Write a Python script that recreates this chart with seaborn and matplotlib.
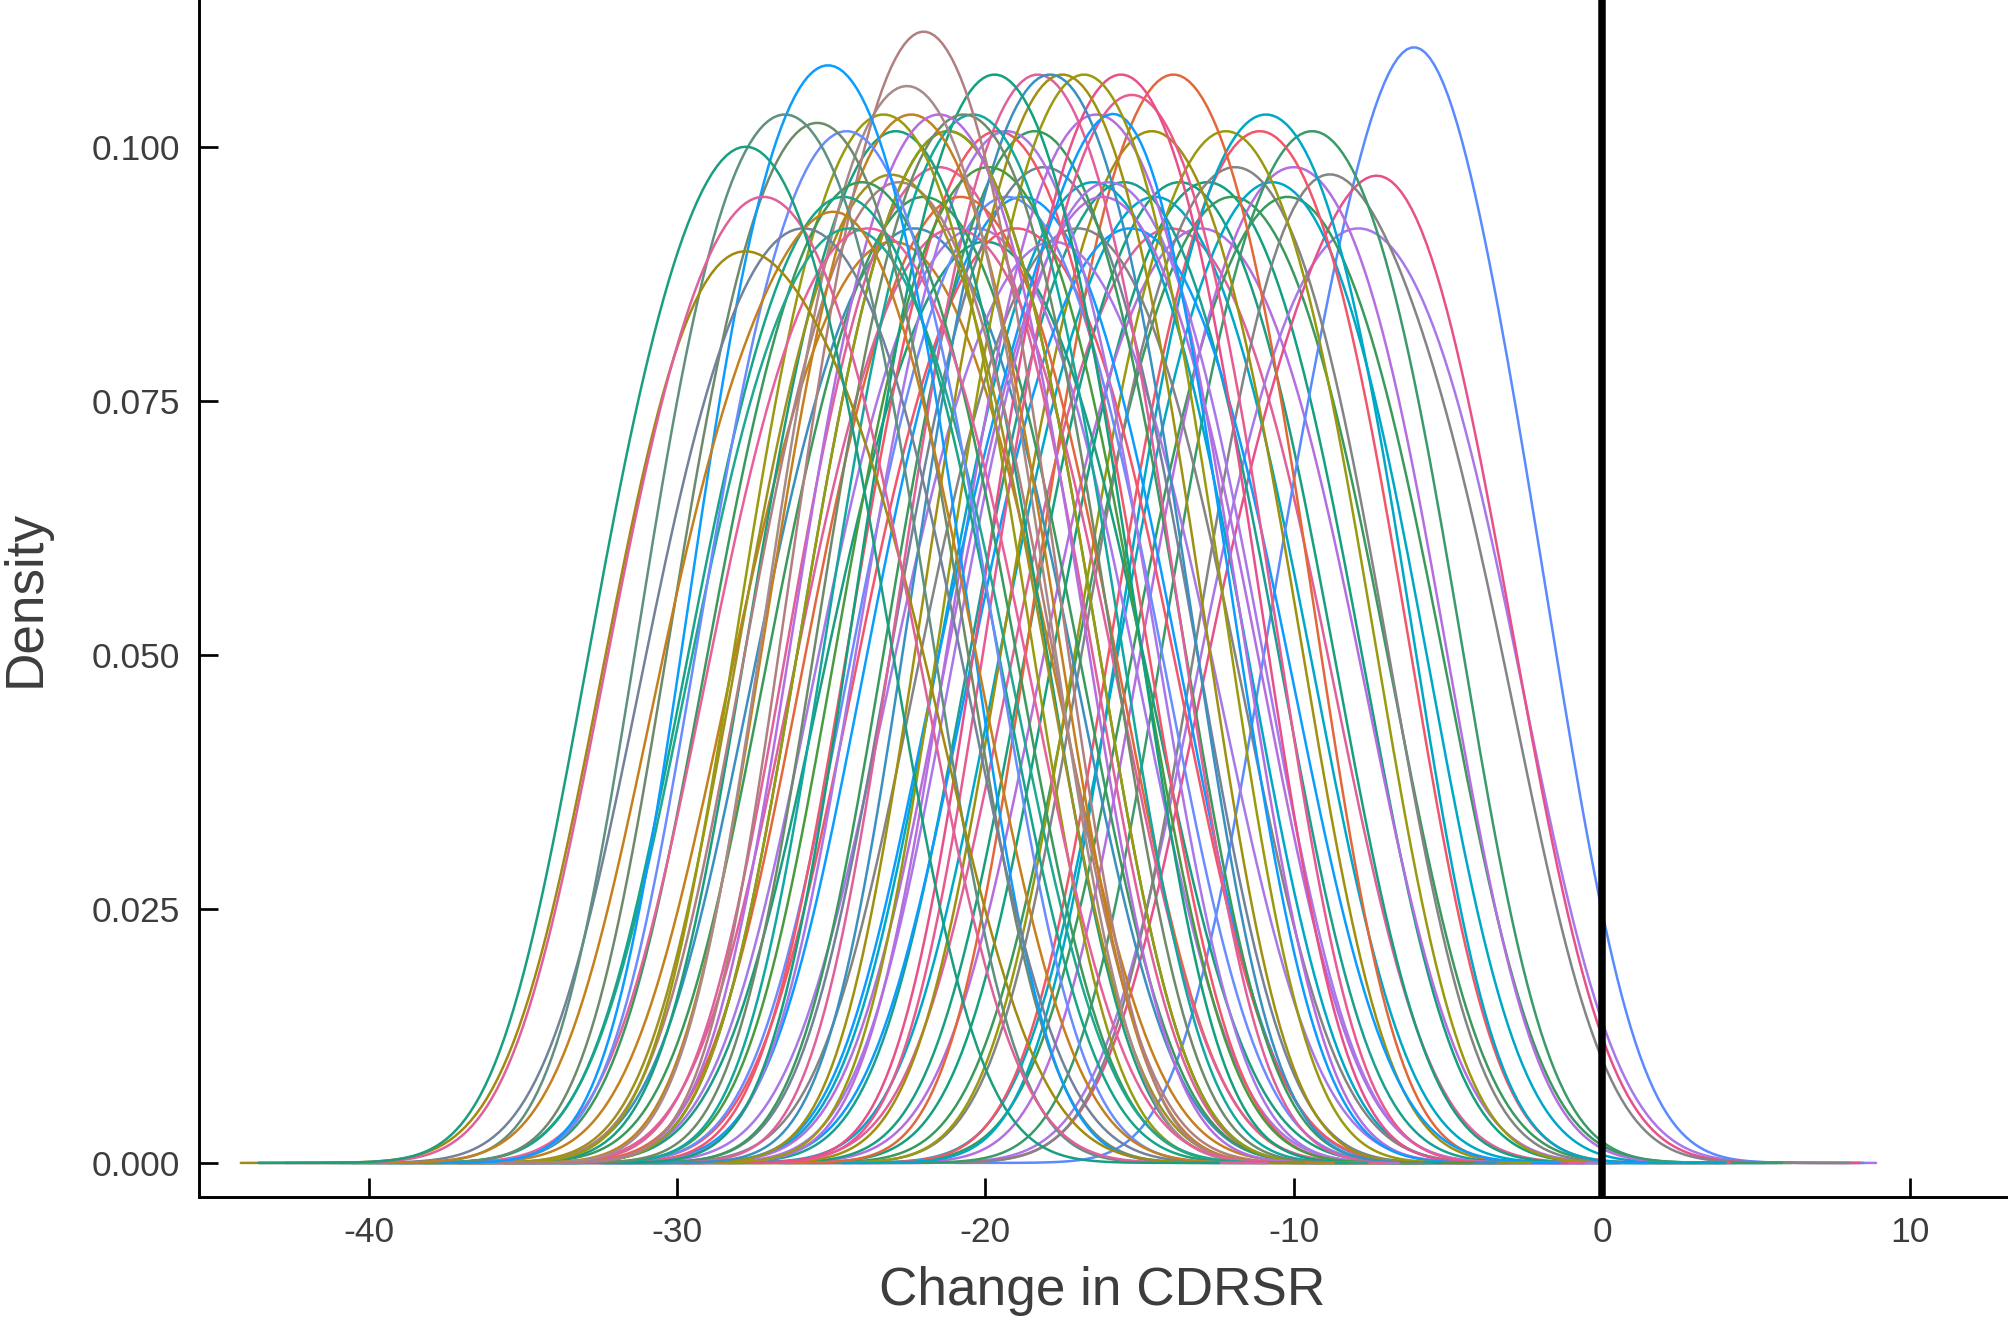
import pandas as pd
import matplotlib
matplotlib.use("Agg")
import matplotlib.pyplot as plt
import seaborn as sns

# simulated trial draws of the change in CDRSR, one list per simulation
# left block: simulations with the largest improvement
left_draws = [
    [-32.1, -29.7, -27.9, -26.1, -23.9],
    [-31.5, -29.1, -27.2, -25.3, -22.9],
    [-31.4, -29.3, -27.3, -25.1, -22.4],
    [-29.8, -27.4, -25.0, -23.6, -21.0],
    [-30.4, -28.3, -26.5, -24.7, -22.6],
    [-30.3, -27.9, -25.9, -23.9, -21.5],
    [-28.85, -26.8, -25.1, -23.4, -21.35],
    [-29.4, -27.25, -25.45, -23.65, -21.5],
    [-28.5, -26.3, -24.5, -22.7, -20.5],
    [-28.9, -26.5, -24.6, -22.7, -20.3],
    [-28.8, -26.4, -24.4, -22.4, -20.0],
    [-28.2, -25.8, -23.8, -21.8, -19.4],
    [-28.2, -25.9, -24.0, -22.1, -19.8],
]
left_colors = ["#1a9e80", "#e0609a", "#a08a10", "#c5801e", "#5f9080",
               "#72829a", "#0a9cff", "#6f8a6a", "#6a8cff", "#16a58a",
               "#20a890", "#e8609a", "#3a9a5e"]

# middle block
mid_draws = [
    [-25.7, -23.6, -22.0, -20.4, -18.3],
    [-26.3, -24.3, -22.5, -20.8, -18.7],
    [-25.4, -23.3, -21.5, -19.7, -17.6],
    [-27.2, -25.1, -23.3, -21.5, -19.4],
    [-26.3, -24.2, -22.4, -20.6, -18.5],
    [-24.6, -22.5, -20.7, -18.9, -16.8],
    [-24.3, -22.2, -20.4, -18.6, -16.5],
    [-23.5, -21.4, -19.7, -18.0, -15.9],
    [-25.2, -23.0, -21.2, -19.4, -17.2],
    [-27.2, -24.95, -23.05, -21.15, -18.9],
    [-27.0, -24.7, -22.8, -20.9, -18.6],
    [-26.9, -24.7, -22.9, -21.1, -18.9],
    [-25.2, -23.0, -21.2, -19.4, -17.2],
    [-24.0, -21.8, -19.9, -18.0, -15.8],
    [-21.7, -19.6, -17.9, -16.2, -14.1],
    [-21.3, -19.2, -17.5, -15.8, -13.7],
    [-20.6, -18.5, -16.8, -15.1, -13.0],
    [-21.0, -18.3, -16.2, -14.9, -12.8],
    [-19.4, -17.3, -15.6, -13.9, -11.8],
    [-22.1, -20.0, -18.3, -16.6, -14.5],
    [-19.1, -17.0, -15.25, -13.5, -11.4],
    [-20.3, -18.2, -16.4, -14.6, -12.5],
    [-20.2, -17.9, -16.0, -14.1, -11.8],
    [-26.3, -23.9, -22.0, -20.1, -17.7],
    [-25.4, -23.0, -21.0, -19.0, -16.6],
    [-25.1, -22.7, -20.8, -18.9, -16.5],
    [-23.3, -21.1, -19.3, -17.5, -15.3],
    [-23.6, -21.4, -19.6, -17.8, -15.6],
    [-22.4, -20.2, -18.4, -16.6, -14.4],
    [-22.2, -20.0, -18.1, -16.2, -14.0],
    [-22.3, -19.8, -17.8, -15.8, -13.3],
    [-23.6, -21.2, -19.3, -17.4, -15.0],
    [-25.6, -23.4, -21.5, -19.6, -17.4],
    [-20.5, -18.1, -16.2, -14.3, -11.9],
    [-19.7, -17.3, -15.3, -13.3, -10.9],
    [-23.4, -21.0, -19.0, -17.0, -14.6],
    [-21.4, -19.0, -17.0, -15.0, -12.6],
    [-24.5, -22.0, -20.0, -18.0, -15.5],
    [-27.5, -25.0, -23.0, -21.0, -18.5],
    [-23.1, -20.7, -18.8, -16.9, -14.5],
    [-26.7, -24.3, -22.3, -20.3, -17.9],
    [-20.7, -18.4, -16.5, -14.6, -12.3],
    [-24.7, -22.3, -20.3, -18.3, -15.9],
    [-19.7, -17.4, -15.5, -13.6, -11.3],
]
mid_colors = ["#b08080", "#a88a8a", "#b46ee0", "#9a9a10", "#c5801e",
              "#6f8a6a", "#10a8a0", "#12a07e", "#9a9a10", "#a09020",
              "#b08080", "#1a9e80", "#3a9a5e", "#4a9a40", "#3a90c0",
              "#a09010", "#9a9a10", "#0a9cff", "#e8508a", "#e0609a",
              "#e85a90", "#b46ee0", "#a878e8", "#3a9a5e", "#e0609a",
              "#e2683c", "#a878e8", "#f2566a", "#3a9a5e", "#72829a",
              "#a878e8", "#6a8cff", "#e0609a", "#b46ee0", "#0a9cff",
              "#f2566a", "#848484", "#1a9e80", "#c5801e", "#0a9cff",
              "#3a90c0", "#00a8c8", "#a878e8", "#1aa090"]

# right block: simulations with the smallest improvement
right_draws = [
    [-17.7, -15.6, -13.9, -12.2, -10.1],
    [-18.6, -16.4, -14.6, -12.8, -10.6],
    [-14.8, -12.7, -10.9, -9.1, -7.0],
    [-16.2, -14.0, -12.2, -10.4, -8.2],
    [-15.1, -12.9, -11.1, -9.3, -7.1],
    [-13.4, -11.2, -9.4, -7.6, -5.4],
    [-12.2, -10.2, -8.4, -6.4, -3.8],
    [-14.1, -11.9, -10.0, -8.1, -5.9],
    [-14.9, -12.6, -10.7, -8.8, -6.5],
    [-14.5, -12.1, -10.2, -8.3, -5.9],
    [-16.0, -13.8, -11.9, -10.0, -7.8],
    [-12.2, -9.6, -7.5, -6.0, -3.6],
    [-10.2, -7.7, -6.1, -4.8, -2.3],
    [-12.3, -9.9, -7.9, -5.9, -3.5],
    [-17.9, -15.6, -13.7, -11.8, -9.5],
    [-16.3, -13.9, -12.0, -10.1, -7.7],
    [-18.8, -16.4, -14.5, -12.6, -10.2],
    [-17.4, -15.0, -13.0, -11.0, -8.6],
    [-18.4, -16.0, -14.0, -12.0, -9.6],
    [-17.0, -14.7, -12.8, -10.9, -8.6],
]
right_colors = ["#e2683c", "#a09010", "#00a8c8", "#9a9a10", "#f2566a",
                "#3a9a6a", "#848484", "#b46ee0", "#00a8c8", "#3a9a5e",
                "#848484", "#e8508a", "#5a8aff", "#a878e8", "#1a9e80",
                "#3a9a5e", "#00a8c8", "#b46ee0", "#e0609a", "#12a07e"]

x_ticks = [-40, -30, -20, -10, 0, 10]
y_ticks = [0.000, 0.025, 0.050, 0.075, 0.100]

# long format table for seaborn
all_draws = left_draws + mid_draws + right_draws
curve_colors = left_colors + mid_colors + right_colors
sim_names = [f"sim{i + 1}" for i in range(len(all_draws))]
rows = []
for name, draws in zip(sim_names, all_draws):
    for v in draws:
        rows.append({"sim": name, "change": v})
df = pd.DataFrame(rows)

sns.set_theme(style="ticks")
plt.rcParams["font.family"] = ["Liberation Sans", "DejaVu Sans"]
plt.rcParams["axes.unicode_minus"] = False

fig = plt.figure(figsize=(13.4, 8.8467), dpi=150)
ax = fig.add_axes([0.099, 0.098, 0.899, 0.902])

sns.kdeplot(
    data=df, x="change", hue="sim", hue_order=sim_names, palette=curve_colors,
    common_norm=False, cut=5, linewidth=1.2, legend=False, ax=ax,
)
ax.axvline(0, color="black", linewidth=3.6, zorder=5)

# axis formatting
ax.set_xlim(-45.5, 13.1)
ax.set_ylim(-0.00335, 0.1145)
ax.set_xticks(x_ticks)
ax.set_xticklabels([str(t) for t in x_ticks])
ax.set_yticks(y_ticks)
ax.set_yticklabels([f"{t:.3f}" for t in y_ticks])
ax.tick_params(direction="in", length=9, width=1.3, colors="black",
               labelcolor="#3d3d3d", labelsize=17)
ax.tick_params(axis="y", pad=9)
ax.tick_params(axis="x", pad=9)
for side in ["top", "right"]:
    ax.spines[side].set_visible(False)
for side in ["left", "bottom"]:
    ax.spines[side].set_linewidth(1.4)
    ax.spines[side].set_color("black")

ax.set_xlabel("Change in CDRSR", fontsize=25.5, color="#3d3d3d")
ax.set_ylabel("Density", fontsize=25.5, color="#3d3d3d")
ax.xaxis.set_label_coords(0.5, -0.058)
ax.yaxis.set_label_coords(-0.082, 0.5)

fig.savefig("out.png", dpi=150)
